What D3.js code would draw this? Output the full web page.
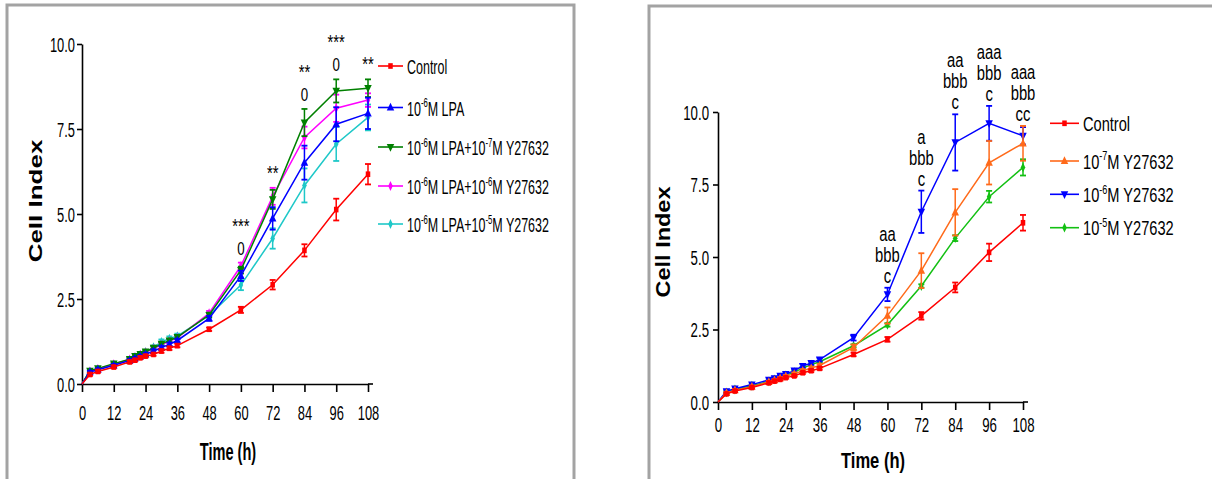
<!DOCTYPE html>
<html><head><meta charset="utf-8">
<script src="https://cdn.jsdelivr.net/npm/d3@7"></script>
<style>body{margin:0;background:#fff}svg{display:block}text{font-family:"Liberation Sans",Arial,sans-serif;fill:#000}</style>
</head><body><svg id="c" width="1212" height="479"></svg>
<script>
// ---------- data ----------
const times  = [0,3,6,12,18,20,22,24,27,30,33,36,48,60,72,84,96,108];
const xTicks = [0,12,24,36,48,60,72,84,96,108];
const yTicks = [0,2.5,5,7.5,10];

// Left panel
const leftLabels = ["Control","10^{-6}M LPA","10^{-6}M LPA+10^{-7}M Y27632","10^{-6}M LPA+10^{-6}M Y27632","10^{-6}M LPA+10^{-5}M Y27632"];
const leftControl = [0,0.28,0.37,0.50,0.65,0.70,0.77,0.82,0.87,0.97,1.05,1.13,1.61,2.18,2.92,3.93,5.13,6.17];
const leftLPA     = [0,0.35,0.42,0.55,0.69,0.75,0.81,0.87,0.97,1.07,1.17,1.28,1.93,3.18,4.87,6.51,7.64,7.96];
const leftLPAY7   = [0,0.39,0.46,0.60,0.73,0.82,0.88,0.95,1.06,1.18,1.28,1.38,2.03,3.35,5.43,7.69,8.62,8.70];
const leftLPAY6   = [0,0.37,0.44,0.58,0.72,0.79,0.86,0.93,1.04,1.15,1.26,1.36,2.08,3.47,5.52,7.25,8.11,8.35];
const leftLPAY5   = [0,0.36,0.43,0.57,0.71,0.79,0.86,0.94,1.08,1.24,1.33,1.41,2.02,2.91,4.28,5.84,7.06,7.84];
const leftControlErr = [0,0.04,0.04,0.04,0.04,0.04,0.04,0.04,0.04,0.05,0.05,0.05,0.05,0.09,0.14,0.18,0.32,0.30];
const leftLPAErr     = [0,0.04,0.04,0.04,0.04,0.04,0.04,0.05,0.05,0.05,0.05,0.05,0.07,0.15,0.33,0.50,0.50,0.46];
const leftLPAY7Err   = [0,0.04,0.04,0.04,0.04,0.04,0.04,0.05,0.05,0.05,0.05,0.05,0.07,0.10,0.28,0.40,0.34,0.26];
const leftLPAY6Err   = [0,0.04,0.04,0.04,0.04,0.04,0.04,0.05,0.05,0.05,0.05,0.05,0.07,0.10,0.25,0.32,0.40,0.20];
const leftLPAY5Err   = [0,0.04,0.04,0.04,0.04,0.04,0.04,0.05,0.05,0.07,0.07,0.07,0.07,0.15,0.30,0.50,0.50,0.38];
const leftAnnotTimes = [60,72,84,96,108];
const leftAnnotText  = [["***","0"],["**"],["**","0"],["***","0"],["**"]];

// Right panel
const rightLabels = ["Control","10^{-7}M Y27632","10^{-6}M Y27632","10^{-5}M Y27632"];
const rightControl = [0,0.28,0.38,0.50,0.66,0.72,0.78,0.84,0.90,1.01,1.08,1.16,1.64,2.16,2.97,3.95,5.16,6.18];
const rightY7      = [0,0.31,0.41,0.53,0.69,0.75,0.82,0.89,0.97,1.08,1.17,1.26,1.88,2.98,4.53,6.54,8.25,8.92];
const rightY6      = [0,0.37,0.46,0.60,0.76,0.82,0.90,0.96,1.08,1.24,1.34,1.46,2.22,3.71,6.56,8.95,9.61,9.18];
const rightY5      = [0,0.33,0.43,0.56,0.71,0.78,0.85,0.92,1.03,1.17,1.29,1.39,1.94,2.66,4.00,5.65,7.08,8.09];
const rightControlErr = [0,0.04,0.04,0.04,0.04,0.04,0.04,0.04,0.04,0.05,0.05,0.05,0.06,0.08,0.13,0.17,0.30,0.27];
const rightY7Err      = [0,0.04,0.04,0.04,0.04,0.04,0.04,0.04,0.05,0.05,0.05,0.05,0.10,0.28,0.60,0.80,0.75,0.60];
const rightY6Err      = [0,0.05,0.05,0.05,0.05,0.05,0.05,0.05,0.06,0.06,0.06,0.06,0.10,0.23,0.73,0.97,0.60,0.30];
const rightY5Err      = [0,0.04,0.04,0.04,0.04,0.04,0.04,0.04,0.04,0.04,0.04,0.04,0.05,0.06,0.06,0.10,0.20,0.28];
const rightAnnotTimes = [60,72,84,96,108];
const rightAnnotText  = [["aa","bbb","c"],["a","bbb","c"],["aa","bbb","c"],["aaa","bbb","c"],["aaa","bbb","cc"]];

// ---------- drawing ----------
const svg = d3.select("#c");
const downTri = {draw(ctx,size){const h=Math.sqrt(size*4/Math.sqrt(3))/2;const r=h*1.1;ctx.moveTo(-h,-r*0.6);ctx.lineTo(h,-r*0.6);ctx.lineTo(0,r*0.9);ctx.closePath();}};
const upTri = {draw(ctx,size){const h=Math.sqrt(size*4/Math.sqrt(3))/2;const r=h*1.1;ctx.moveTo(-h,r*0.6);ctx.lineTo(h,r*0.6);ctx.lineTo(0,-r*0.9);ctx.closePath();}};

function stext(g, x, y, str, o) {
  const t = g.append("text")
    .attr("transform", `translate(${x},${y}) scale(${o.sx},1)${o.rot ? ` rotate(${o.rot})` : ""}`)
    .attr("font-size", o.size).attr("text-anchor", o.anchor || "start")
    .attr("font-weight", o.weight || "normal");
  const parts = str.split(/(\^\{[^}]*\})/).filter(s => s.length);
  let raised = false;
  parts.forEach(p => {
    if (p.startsWith("^{")) {
      t.append("tspan").attr("font-size", o.size * 0.62).attr("dy", -o.size * 0.42).text(p.slice(2, -1));
      raised = true;
    } else {
      const ts = t.append("tspan").text(p);
      if (raised) { ts.attr("dy", o.size * 0.42); raised = false; }
    }
  });
  return t;
}

function panel(p) {
  const g = svg.append("g");
  const x = d3.scaleLinear().domain([0,108]).range(p.xr);
  const y = d3.scaleLinear().domain([0,10]).range(p.yr);

  // frame
  g.append("path").attr("d", p.frame).attr("fill","none").attr("stroke","#a3a3a3").attr("stroke-width",3);

  // x axis
  const ax = g.append("g").attr("transform",`translate(0,${p.yr[0]})`)
    .call(d3.axisBottom(x).tickValues(xTicks).tickSize(p.xTickLen).tickSizeOuter(0).tickFormat(d3.format("d")));
  ax.attr("font-family", null).attr("font-size", null);
  ax.selectAll("path,line").attr("stroke","#000").attr("stroke-width",1.6);
  ax.selectAll("text").attr("y",0).attr("dy",null).attr("fill","#000")
    .attr("font-size", p.tickFont).attr("transform",`translate(0,${p.xLabBase}) scale(${p.tickSx},1)`);
  g.append("line").attr("x1",p.xr[1]).attr("x2",p.xr[1]+5).attr("y1",p.yr[0]).attr("y2",p.yr[0]).attr("stroke","#000").attr("stroke-width",1.6);

  // y axis
  const ay = g.append("g").attr("transform",`translate(${p.xr[0]},0)`)
    .call(d3.axisLeft(y).tickValues(yTicks).tickSize(p.yTickLen).tickSizeOuter(0).tickFormat(d3.format(".1f")));
  ay.attr("font-family", null).attr("font-size", null);
  ay.selectAll("path,line").attr("stroke","#000").attr("stroke-width",1.6);
  ay.selectAll("text").attr("x",0).attr("dy",null).attr("fill","#000")
    .attr("font-size", p.tickFont).attr("transform",`translate(${-p.yLabGap},${p.tickFont*0.36}) scale(${p.tickSx},1)`);

  // titles
  stext(g, p.xTitle[0], p.xTitle[1], "Time (h)", {size:p.xTitleSize, sx:p.xTitleSx, anchor:"middle", weight:"bold"});
  stext(g, p.yTitle[0], p.yTitle[1], "Cell Index", {size:p.yTitleSize, sx:p.yTitleSx, anchor:"middle", weight:"bold", rot:-90});

  const line = d3.line().x((d,i) => x(times[i])).y(d => y(d));
  const order = d3.range(p.series.length).reverse();
  order.forEach(k => {
    const s = p.series[k];
    const sg = g.append("g");
    sg.append("path").attr("d", line(s.values)).attr("fill","none").attr("stroke",s.color).attr("stroke-width",1.5);
    s.values.forEach((v,i) => {
      if (times[i] === 0) return;
      const cx = x(times[i]), e = s.err[i];
      sg.append("line").attr("x1",cx).attr("x2",cx).attr("y1",y(v-e)).attr("y2",y(v+e)).attr("stroke",s.color).attr("stroke-width",1.5);
      [v-e, v+e].forEach(c => sg.append("line").attr("x1",cx-3).attr("x2",cx+3).attr("y1",y(c)).attr("y2",y(c)).attr("stroke",s.color).attr("stroke-width",1.8));
      sg.append("path").attr("d", d3.symbol().type(s.sym).size(s.size)())
        .attr("transform",`translate(${cx},${y(v)}) scale(0.8,1)`).attr("fill",s.color);
    });
  });

  // annotations
  p.annotTimes.forEach((t,j) => {
    const i = times.indexOf(t);
    const top = d3.max(p.series, s => s.values[i] + s.err[i]);
    const lines = p.annotText[j];
    const base = y(top) - p.annotGap;
    lines.forEach((str,m) => {
      const isStar = str.startsWith("*");
      stext(g, x(t), base - (lines.length-1-m)*p.annotSpacing, str,
        {size: isStar ? p.starFont : p.annotFont, sx:p.annotSx, anchor:"middle"});
    });
  });

  // legend
  p.series.forEach((s,k) => {
    const ly = p.legendY[k];
    g.append("line").attr("x1",p.legendX).attr("x2",p.legendX+p.legendLen).attr("y1",ly).attr("y2",ly).attr("stroke",s.color).attr("stroke-width",1.6);
    g.append("path").attr("d", d3.symbol().type(s.sym).size(s.size)())
      .attr("transform",`translate(${p.legendX+p.legendLen/2},${ly}) scale(0.8,1)`).attr("fill",s.color);
    stext(g, p.legendX+p.legendLen+4, ly+p.legendBaseOff, s.label, {size:p.legendFont, sx:p.legendSx});
  });
}

panel({
  xr:[82,368], yr:[384,44], frame:"M7,479V5H574V479",
  xTickLen:8, yTickLen:5, tickFont:19.5, tickSx:0.66, xLabBase:36, yLabGap:7,
  xTitle:[228,460], xTitleSize:23.5, xTitleSx:0.62,
  yTitle:[42,201], yTitleSize:26, yTitleSx:0.72,
  series:[
    {label:leftLabels[0], values:leftControl, err:leftControlErr, color:"#ff0000", sym:d3.symbolSquare, size:32},
    {label:leftLabels[1], values:leftLPA, err:leftLPAErr, color:"#0000ff", sym:upTri, size:38},
    {label:leftLabels[2], values:leftLPAY7, err:leftLPAY7Err, color:"#008000", sym:downTri, size:38},
    {label:leftLabels[3], values:leftLPAY6, err:leftLPAY6Err, color:"#ff00ff", sym:d3.symbolDiamond, size:28},
    {label:leftLabels[4], values:leftLPAY5, err:leftLPAY5Err, color:"#1ec8c8", sym:d3.symbolDiamond, size:28}
  ],
  annotTimes:leftAnnotTimes, annotText:leftAnnotText, annotGap:8, annotSpacing:22, annotFont:18, starFont:20, annotSx:0.74,
  legendX:378, legendLen:25, legendY:[66,107.5,147,186,224], legendBaseOff:8, legendFont:19.5, legendSx:0.64
});

panel({
  xr:[718,1023], yr:[402,112], frame:"M649,479V6H1212",
  xTickLen:8, yTickLen:5, tickFont:19.5, tickSx:0.68, xLabBase:30, yLabGap:9,
  xTitle:[873,468], xTitleSize:21.5, xTitleSx:0.77,
  yTitle:[670,242], yTitleSize:23.5, yTitleSx:0.84,
  series:[
    {label:rightLabels[0], values:rightControl, err:rightControlErr, color:"#ff0000", sym:d3.symbolSquare, size:32},
    {label:rightLabels[1], values:rightY7, err:rightY7Err, color:"#ff6a1a", sym:upTri, size:38},
    {label:rightLabels[2], values:rightY6, err:rightY6Err, color:"#0000ff", sym:downTri, size:38},
    {label:rightLabels[3], values:rightY5, err:rightY5Err, color:"#13c013", sym:d3.symbolDiamond, size:28}
  ],
  annotTimes:rightAnnotTimes, annotText:rightAnnotText, annotGap:5, annotSpacing:21, annotFont:19.5, starFont:21, annotSx:0.76,
  legendX:1050, legendLen:29, legendY:[123.3,161,194.3,227.7], legendBaseOff:7.5, legendFont:19.5, legendSx:0.75
});
</script>
</body></html>
